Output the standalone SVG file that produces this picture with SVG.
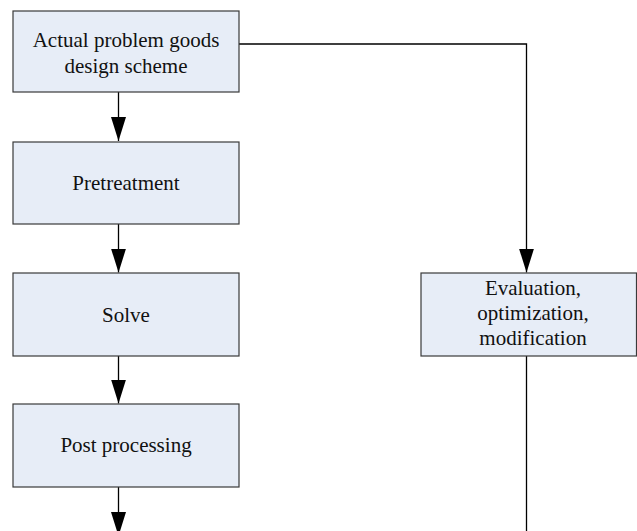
<svg xmlns="http://www.w3.org/2000/svg" width="637" height="531" viewBox="0 0 637 531">
<style>
.box{fill:#E7EDF7;stroke:#3a3a3a;stroke-width:1.2}
.t{font-family:"Liberation Serif","Times New Roman",serif;font-size:21px;fill:#111;text-anchor:middle}
.c{fill:none;stroke:#000;stroke-width:1.3}
</style>
<defs>
<marker id="ah" viewBox="0 0 24 15" refX="24" refY="7.5" markerWidth="24" markerHeight="15" markerUnits="userSpaceOnUse" orient="auto">
<path d="M0,0 L24,7.5 L0,15 z" fill="#000"/>
</marker>
</defs>
<rect width="637" height="531" fill="#fff"/>
<g id="connectors">
<path class="c" d="M118.5,92 V141" marker-end="url(#ah)"/>
<path class="c" d="M118.5,224 V272.5" marker-end="url(#ah)"/>
<path class="c" d="M118.5,356 V403.5" marker-end="url(#ah)"/>
<path class="c" d="M118.5,487 V536" marker-end="url(#ah)"/>
<path class="c" d="M239,44 H526.5 V272.5" marker-end="url(#ah)"/>
<path class="c" d="M526.5,356 V531"/>
</g>
<g id="n1">
<rect class="box" x="13" y="11" width="226" height="81"/>
<text class="t" x="126" y="47">Actual problem goods</text>
<text class="t" x="126" y="73">design scheme</text>
</g>
<g id="n2">
<rect class="box" x="13" y="142" width="226" height="82"/>
<text class="t" x="126" y="190">Pretreatment</text>
</g>
<g id="n3">
<rect class="box" x="13" y="273" width="226" height="83"/>
<text class="t" x="126" y="322">Solve</text>
</g>
<g id="n4">
<rect class="box" x="13" y="404" width="226" height="83"/>
<text class="t" x="126" y="452">Post processing</text>
</g>
<g id="n5">
<rect class="box" x="421" y="273" width="215.5" height="83"/>
<text class="t" x="533" y="295">Evaluation,</text>
<text class="t" x="533" y="320">optimization,</text>
<text class="t" x="533" y="345">modification</text>
</g>
</svg>
